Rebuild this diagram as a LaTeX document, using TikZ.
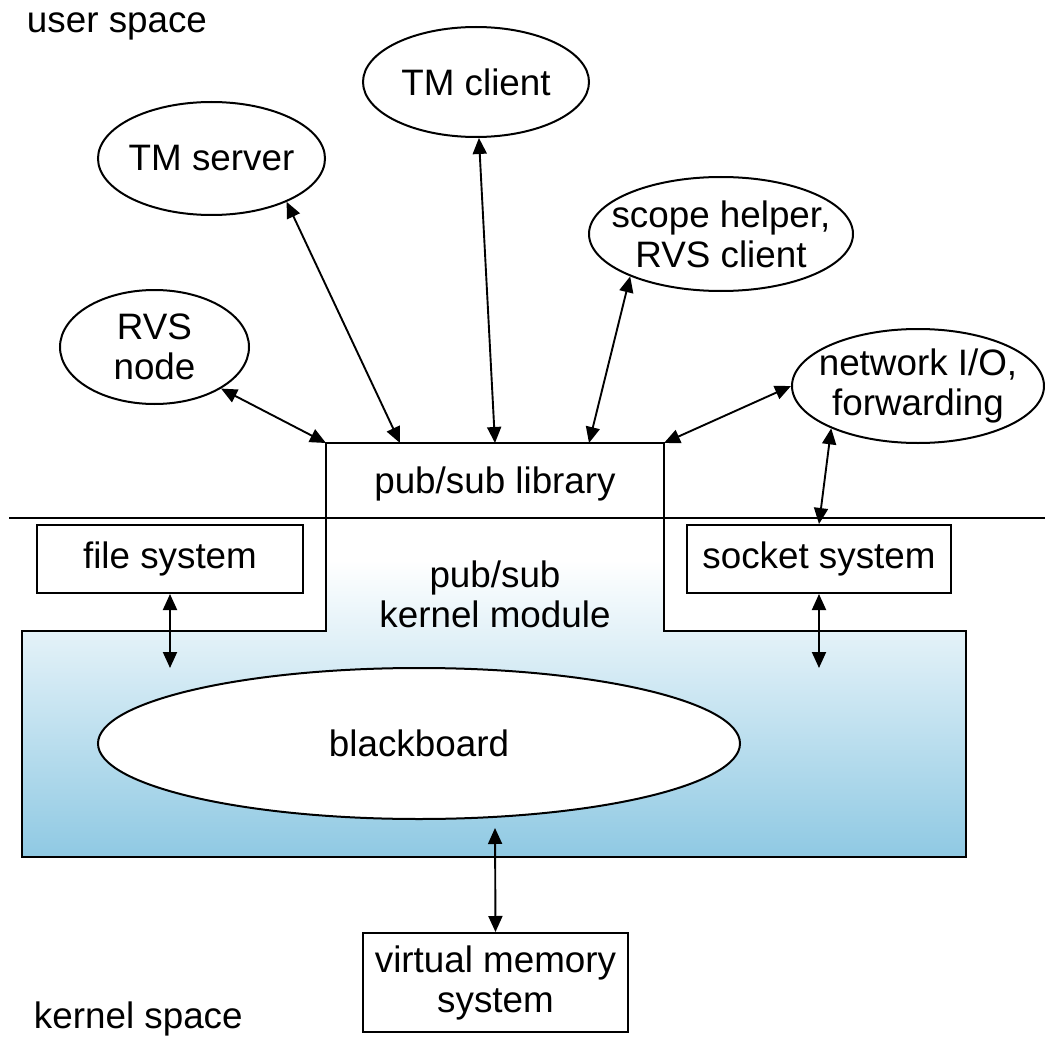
\documentclass[tikz,border=0pt]{standalone}
\usepackage{fontspec}
\setmainfont{Liberation Sans}
\usetikzlibrary{arrows.meta,shapes.geometric}
\definecolor{kblue}{RGB}{143,201,227}
\begin{document}
\begin{tikzpicture}[x=1pt,y=-1pt,
  font=\fontsize{36.8}{40}\selectfont,
  line width=2pt,
  % ellipses keep their given size; the text sits in a centred label
  ell/.style={ellipse, draw, fill=white, inner sep=0pt,
    label={[align=center, inner sep=0pt]center:#1}},
  box/.style={rectangle, draw, fill=white, inner sep=0pt, align=center},
  lbl/.style={inner sep=0pt, align=center},
  dbl/.style={{Triangle[length=16pt,width=14pt]}-{Triangle[length=16pt,width=14pt]}, line width=1.9pt},
  sep/.style={line width=2.6pt}]

\useasboundingbox[fill=white] (0,0) rectangle (1045,1038);

% outline of the pub/sub library + kernel module block
\def\kmodpath{(326,443) -- (664,443) -- (664,631) -- (966,631) -- (966,857)
  -- (22,857) -- (22,631) -- (326,631) -- cycle}
\begin{scope}
  \clip \kmodpath;
  \fill[white] (22,443) rectangle (966,857);
  \shade[top color=white, bottom color=kblue] (22,560) rectangle (966,857);
\end{scope}
\draw \kmodpath;

% corners and attachment points on the library's top edge
\coordinate (libnw) at (326,443);
\coordinate (libne) at (664,443);
\coordinate (libA) at (400,443);
\coordinate (libB) at (495,443);
\coordinate (libC) at (589,443);

% user / kernel boundary
\coordinate (sepL) at (9,518);
\coordinate (sepR) at (1045,518);
\draw[sep] (sepL) -- (sepR);

% labels
\node[lbl, anchor=base west] (us) at (26,33) {user space};
\node[lbl, anchor=base west] (ks) at (33,1028) {kernel space};
\node[lbl, anchor=base] (lib) at (495,493) {pub/sub library};
\node[lbl] (kmod) at (495,594) {pub/sub\\kernel module};

% user-space processes
\node[ell={TM client}, minimum width=226pt, minimum height=110pt] (tmc) at (476,82) {};
\node[ell={TM server}, minimum width=227pt, minimum height=113pt] (tms) at (211.5,158.5) {};
\node[ell={RVS\\node}, minimum width=189pt, minimum height=114pt] (rvs) at (154.5,347) {};
\node[ell={scope helper,\\RVS client}, minimum width=264pt, minimum height=114pt] (scope) at (721,234) {};
\node[ell={network I/O,\\forwarding}, minimum width=252pt, minimum height=114pt] (net) at (918,386) {};

% kernel subsystems
\node[box, minimum width=266pt, minimum height=68pt] (fs) at (170,559) {file system};
\node[box, minimum width=264pt, minimum height=68pt] (sock) at (819,559) {socket system};
\node[box, minimum width=265pt, minimum height=99pt] (vm) at (495.5,982.5) {virtual memory\\system};
\node[ell={blackboard}, minimum width=642pt, minimum height=151pt] (bb) at (419,743.5) {};

% free ends inside the kernel module
\coordinate (fsend) at (170,668);
\coordinate (sockend) at (819,668);
\coordinate (vmend) at (495,828);

% connectors
\draw[dbl] (rvs.-32) -- (libnw);
\draw[dbl] (tms.-30) -- (libA);
\draw[dbl] (tmc.-87) -- (libB);
\draw[dbl] (scope.-155) -- (libC);
\draw[dbl] (net.180) -- (libne);
\draw[dbl] (net.-154) -- (sock.north);
\draw[dbl] (fs.south) -- (fsend);
\draw[dbl] (sock.south) -- (sockend);
\draw[dbl] (vmend) -- (vm.north);
\end{tikzpicture}
\end{document}
